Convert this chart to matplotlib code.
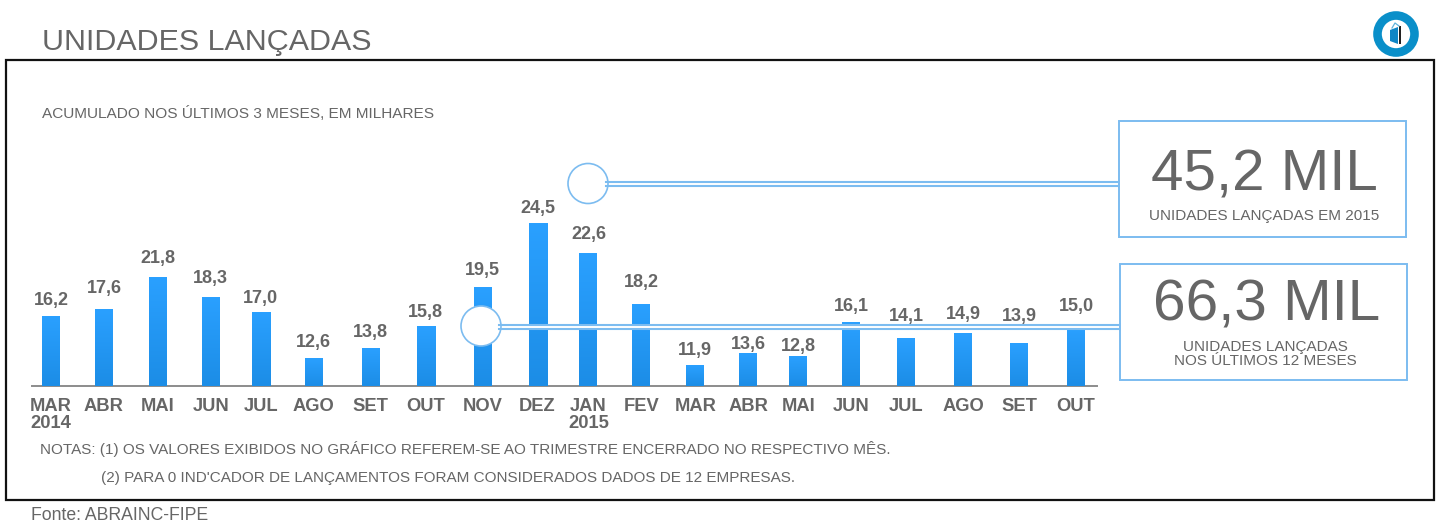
import numpy as np
import matplotlib
matplotlib.use('Agg')
import matplotlib.pyplot as plt
from matplotlib.colors import LinearSegmentedColormap
from matplotlib.patches import Circle, Rectangle, Polygon

months = ['MAR\n2014', 'ABR', 'MAI', 'JUN', 'JUL', 'AGO', 'SET', 'OUT', 'NOV', 'DEZ',
          'JAN\n2015', 'FEV', 'MAR', 'ABR', 'MAI', 'JUN', 'JUL', 'AGO', 'SET', 'OUT']
values = [16.2, 17.6, 21.8, 18.3, 17.0, 12.6, 13.8, 15.8, 19.5, 24.5,
          22.6, 18.2, 11.9, 13.6, 12.8, 16.1, 14.1, 14.9, 13.9, 15.0]
# the drawn bars are not proportional to their labels, so heights are read separately
bar_heights = [70, 77, 109, 89, 74, 28, 38, 60, 99, 163,
               133, 82, 21, 33, 30, 64, 48, 53, 43, 58]

# layout, in pixels: slot shift of each month and gap from bar top to its label
slot_shift = [0, -1, -1, -2, -6, -7, -4, -3, 0, 1, -2, -3, -3, -4, -8, -9, -8, -5, -3, 0]
label_gap = [15, 20, 19, 18, 13, 15, 15, 13, 16, 14, 18, 22, 15, 8, 9, 15, 22, 19, 27, 21]

W, H = 1441, 527
GREY = '#666666'
LINE = '#7cbcf0'
plt.rcParams['font.family'] = ['Liberation Sans', 'DejaVu Sans']

fig = plt.figure(figsize=(W / 100, H / 100), dpi=100)

# bar axes: slot 0 sits at x=51px, slot 19 at x=1076px, baseline at y=386px
slot = (1076 - 51) / 19
left, right, base, top = 32, 1097, 386, 100
ax = fig.add_axes([left / W, 1 - base / H, (right - left) / W, (base - top) / H])
ax.patch.set_alpha(0)
x = np.arange(len(months)) + np.array(slot_shift) / slot
bars = ax.bar(x, bar_heights, width=18 / slot, color='#2596f5', zorder=2)

cmap = LinearSegmentedColormap.from_list('bar', ['#2aa0ff', '#1c8de6'])
grad = np.linspace(0, 1, 64).reshape(-1, 1)
for b in bars:
    ax.imshow(grad, extent=(b.get_x(), b.get_x() + b.get_width(), 0, b.get_height()),
              aspect='auto', cmap=cmap, origin='upper', zorder=3)
ax.set_xlim((left - 51) / slot, (right - 51) / slot)
ax.set_ylim(0, base - top)

for xi, h, v, gap in zip(x, bar_heights, values, label_gap):
    ax.annotate(f'{v:.1f}'.replace('.', ','), (xi, h), xytext=(0, gap * 0.72),
                textcoords='offset points', ha='center', va='center',
                fontsize=13, fontweight='bold', color=GREY, annotation_clip=False)

ax.set_xticks(x)
ax.set_xticklabels(months, fontsize=13.2, fontweight='bold', color=GREY, linespacing=1.05)
ax.tick_params(axis='x', length=0, pad=8.3)
ax.set_yticks([])
for s in ['top', 'left', 'right']:
    ax.spines[s].set_visible(False)
ax.spines['bottom'].set_color('#8c8c8c')
ax.spines['bottom'].set_linewidth(1.4)

# overlay in pixel coordinates for the frame, callouts and texts
ov = fig.add_axes([0, 0, 1, 1], zorder=5)
ov.patch.set_alpha(0)
ov.set_xlim(0, W)
ov.set_ylim(H, 0)
ov.axis('off')

ov.add_patch(Rectangle((6, 59.5), 1428, 440, fill=False, ec='#111111', lw=1.6))

# callout lines: two thin strokes with white between them
for x0, x1, yc in [(606, 1118, 184), (499, 1119, 326.5)]:
    ov.add_patch(Rectangle((x0, yc - 2), x1 - x0, 4, fc='white', ec='none'))
    ov.plot([x0, x1], [yc - 2, yc - 2], color=LINE, lw=1.5)
    ov.plot([x0, x1], [yc + 2, yc + 2], color=LINE, lw=1.5)
ov.add_patch(Circle((588, 183.5), 20, fc='white', ec=LINE, lw=1.2))
ov.add_patch(Circle((481, 326), 20, fc='white', ec=LINE, lw=1.2))

ov.add_patch(Rectangle((1118.5, 121), 287, 116, fc='white', ec=LINE, lw=1.4))
ov.add_patch(Rectangle((1119.5, 263.5), 287, 116, fc='white', ec=LINE, lw=1.4))

ov.text(42, 42, 'UNIDADES LANÇADAS', fontsize=21.9, color=GREY, va='center')
ov.text(42, 113, 'ACUMULADO NOS ÚLTIMOS 3 MESES, EM MILHARES', fontsize=11.05, color=GREY, va='center')
ov.text(1264.5, 175, '45,2 MIL', fontsize=42, color=GREY, ha='center', va='center')
ov.text(1264, 216, 'UNIDADES LANÇADAS EM 2015', fontsize=11, color=GREY, ha='center', va='center')
ov.text(1266.5, 306, '66,3 MIL', fontsize=42, color=GREY, ha='center', va='center')
ov.text(1265.5, 354, 'UNIDADES LANÇADAS\nNOS ÚLTIMOS 12 MESES', fontsize=11, color=GREY,
        ha='center', va='center', linespacing=0.95)
ov.text(40, 449, 'NOTAS: (1) OS VALORES EXIBIDOS NO GRÁFICO REFEREM-SE AO TRIMESTRE ENCERRADO NO RESPECTIVO MÊS.',
        fontsize=11.03, color=GREY, va='center')
ov.text(101, 478, "(2) PARA 0 IND'CADOR DE LANÇAMENTOS FORAM CONSIDERADOS DADOS DE 12 EMPRESAS.",
        fontsize=11.03, color=GREY, va='center')
ov.text(31, 516, 'Fonte: ABRAINC-FIPE', fontsize=12.7, color=GREY, va='center')

# logo: ring with a small door
ov.add_patch(Circle((1396, 34), 18.5, fc='white', ec='#0a8fc9', lw=6.2))
ov.add_patch(Polygon([(1390, 30), (1398, 27), (1398, 44), (1390, 41)], fc='#0f86c6', ec='none'))
ov.add_patch(Rectangle((1398.5, 26), 2.5, 18, fc='#222222', ec='none'))
ov.plot([1392, 1395, 1399], [28, 23, 26], color='#5fb3dc', lw=0.9)

fig.savefig('out.png', dpi=100)
